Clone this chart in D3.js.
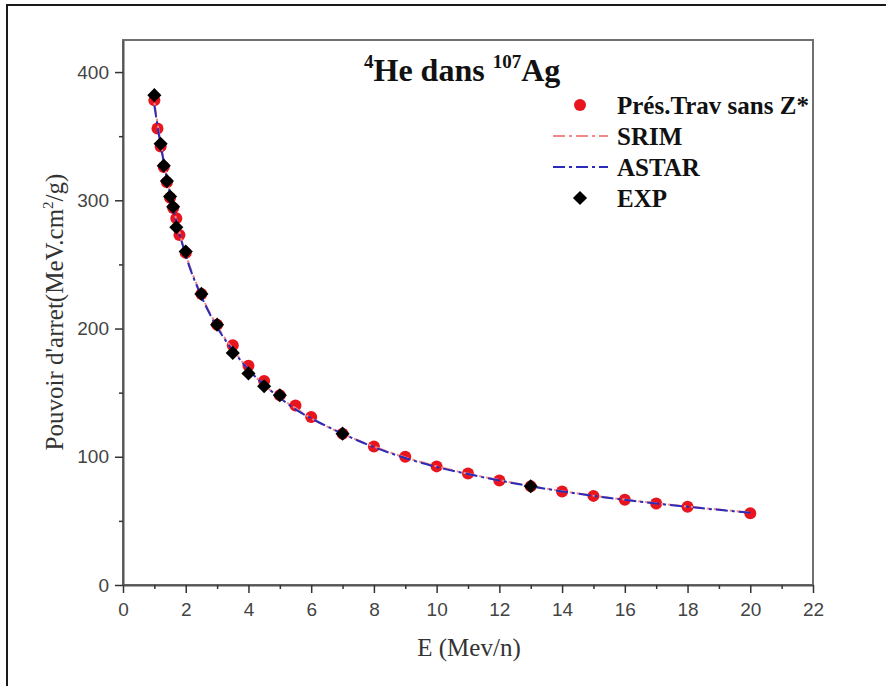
<!DOCTYPE html>
<html>
<head>
<meta charset="utf-8">
<script src="https://cdn.jsdelivr.net/npm/d3@7"></script>
<style>
  body { margin: 0; background: #fff; }
  svg { display: block; }
</style>
</head>
<body>
<div></div>
<script>
// Présent travail (sans Z*)
var presE = [1, 1.1, 1.2, 1.3, 1.4, 1.5, 1.6, 1.7, 1.8, 2, 2.5, 3, 3.5, 4, 4.5, 5, 5.5, 6, 7, 8, 9, 10, 11, 12, 13, 14, 15, 16, 17, 18, 20];
var presS = [378, 356, 342, 326, 314, 302, 294, 286, 273, 259, 227, 203, 187, 171, 159, 148, 140, 131, 118, 108, 100, 92.5, 87, 81.5, 77, 73, 69.5, 66.5, 63.5, 61, 56];

// SRIM / ASTAR curves
var lineE = [1, 1.2, 1.4, 1.6, 1.8, 2, 2.5, 3, 3.5, 4, 4.5, 5, 5.5, 6, 7, 8, 9, 10, 11, 12, 13, 14, 15, 16, 17, 18, 19, 20];
var srimS = [376, 345, 318, 295, 275, 258, 226, 202, 184, 168, 156, 146, 138, 130, 118, 108, 99.5, 92.5, 86.8, 81.8, 77.2, 73.2, 69.7, 66.6, 63.8, 61.2, 58.8, 56.6];
var astarS = [374, 343, 317, 294, 274, 257, 225, 201, 183, 168, 156, 146, 137, 130, 118, 107.5, 99, 92, 86.5, 81.5, 77, 73, 69.5, 66.4, 63.6, 61, 58.6, 56.4];

// experimental
var expE = [1, 1.2, 1.3, 1.4, 1.5, 1.6, 1.7, 2, 2.5, 3, 3.5, 4, 4.5, 5, 7, 13];
var expS = [382, 344, 327, 315, 303, 295, 279, 260, 227, 203, 181, 165, 155, 148, 118, 77];

var xTicks = [0, 2, 4, 6, 8, 10, 12, 14, 16, 18, 20, 22];
var yTicks = [0, 100, 200, 300, 400];

var W = 886, H = 686;
var pLeft = 123, pRight = 813, pTop = 40, pBottom = 585;

var svg = d3.select("div").append("svg").attr("width", W).attr("height", H);

// outer frame (right and bottom edges fall outside the picture)
svg.append("rect")
    .attr("x", 7).attr("y", 5)
    .attr("width", W).attr("height", H)
    .attr("fill", "none")
    .attr("stroke", "#1a1a1a")
    .attr("stroke-width", 2);

var x = d3.scaleLinear().domain([0, 22]).range([pLeft, pRight]);
var y = d3.scaleLinear().domain([0, 425]).range([pBottom, pTop]);

// plot box
svg.append("rect")
    .attr("x", pLeft).attr("y", pTop)
    .attr("width", pRight - pLeft).attr("height", pBottom - pTop)
    .attr("fill", "none")
    .attr("stroke", "#707070")
    .attr("stroke-width", 2);

// axes
svg.append("g").attr("transform", "translate(0," + pBottom + ")")
    .call(d3.axisBottom(x).tickValues(xTicks).tickSize(8).tickSizeOuter(0).tickPadding(10));
svg.append("g").attr("transform", "translate(0," + pBottom + ")")
    .call(d3.axisBottom(x).tickValues(d3.range(1, 22, 2)).tickSize(4).tickFormat("").tickSizeOuter(0))
    .select(".domain").remove();

svg.append("g").attr("transform", "translate(" + pLeft + ",0)")
    .call(d3.axisLeft(y).tickValues(yTicks).tickSize(8).tickSizeOuter(0).tickPadding(6));
svg.append("g").attr("transform", "translate(" + pLeft + ",0)")
    .call(d3.axisLeft(y).tickValues([50, 150, 250, 350]).tickSize(4).tickFormat("").tickSizeOuter(0))
    .select(".domain").remove();

svg.selectAll(".domain").attr("stroke", "#555").attr("stroke-width", 2);
svg.selectAll(".tick line").attr("stroke", "#333").attr("stroke-width", 1.5);
svg.selectAll(".tick text")
    .attr("font-family", "'Liberation Sans', Arial, sans-serif")
    .attr("font-size", 19)
    .attr("fill", "#444");

var line = d3.line().x(function(d) { return x(d[0]); }).y(function(d) { return y(d[1]); })
    .curve(d3.curveMonotoneX);

// red points first, curves on top
svg.append("g").selectAll("circle")
    .data(d3.zip(presE, presS))
    .enter().append("circle")
    .attr("cx", function(d) { return x(d[0]); })
    .attr("cy", function(d) { return y(d[1]); })
    .attr("r", 6)
    .attr("fill", "#e8141e");

svg.append("path")
    .datum(d3.zip(lineE, srimS))
    .attr("d", line)
    .attr("fill", "none")
    .attr("stroke", "#f08a8a")
    .attr("stroke-width", 2)
    .attr("stroke-dasharray", "12,4,3,4");

svg.append("path")
    .datum(d3.zip(lineE, astarS))
    .attr("d", line)
    .attr("fill", "none")
    .attr("stroke", "#2b2bb8")
    .attr("stroke-width", 2)
    .attr("stroke-dasharray", "12,4,3,4");

// square turned 45 degrees
var diamond = d3.symbol().type(d3.symbolSquare).size(100);
svg.append("g").selectAll("path")
    .data(d3.zip(expE, expS))
    .enter().append("path")
    .attr("d", diamond)
    .attr("transform", function(d) { return "translate(" + x(d[0]) + "," + y(d[1]) + ") rotate(45)"; })
    .attr("fill", "#000");

// title
var title = svg.append("text")
    .attr("x", 364).attr("y", 81)
    .attr("font-family", "'Liberation Serif', 'Times New Roman', serif")
    .attr("font-weight", "bold")
    .attr("font-size", 32)
    .attr("fill", "#111");
title.append("tspan").attr("font-size", 19).attr("dy", -13).text("4");
title.append("tspan").attr("dy", 13).text("He dans ");
title.append("tspan").attr("font-size", 19).attr("dy", -13).text("107");
title.append("tspan").attr("dy", 13).text("Ag");

// legend
var legendNames = ["Prés.Trav sans Z*", "SRIM", "ASTAR", "EXP"];
var lg = svg.append("g");
var rowY = function(i) { return 105 + i * 31; };

lg.append("circle").attr("cx", 580).attr("cy", rowY(0)).attr("r", 6).attr("fill", "#e8141e");
lg.append("line").attr("x1", 553).attr("x2", 608).attr("y1", rowY(1)).attr("y2", rowY(1))
    .attr("stroke", "#f08a8a").attr("stroke-width", 2).attr("stroke-dasharray", "12,4,3,4");
lg.append("line").attr("x1", 553).attr("x2", 608).attr("y1", rowY(2)).attr("y2", rowY(2))
    .attr("stroke", "#2b2bb8").attr("stroke-width", 2).attr("stroke-dasharray", "12,4,3,4");
lg.append("path").attr("d", diamond)
    .attr("transform", "translate(580," + rowY(3) + ") rotate(45)").attr("fill", "#000");

lg.selectAll("text")
    .data(legendNames)
    .enter().append("text")
    .attr("x", 617)
    .attr("y", function(d, i) { return rowY(i) + 9; })
    .attr("font-family", "'Liberation Serif', 'Times New Roman', serif")
    .attr("font-weight", "bold")
    .attr("font-size", 25)
    .attr("fill", "#111")
    .text(function(d) { return d; });

// axis titles
svg.append("text")
    .attr("x", 469).attr("y", 656)
    .attr("text-anchor", "middle")
    .attr("font-family", "'Liberation Serif', 'Times New Roman', serif")
    .attr("font-size", 25)
    .attr("fill", "#333")
    .text("E (Mev/n)");

var yt = svg.append("text")
    .attr("transform", "translate(63,312) rotate(-90)")
    .attr("text-anchor", "middle")
    .attr("font-family", "'Liberation Serif', 'Times New Roman', serif")
    .attr("font-size", 25)
    .attr("fill", "#333");
yt.append("tspan").text("Pouvoir d'arret(MeV.cm");
yt.append("tspan").attr("font-size", 15).attr("dy", -10).text("2");
yt.append("tspan").attr("dy", 10).text("/g)");
</script>
</body>
</html>
